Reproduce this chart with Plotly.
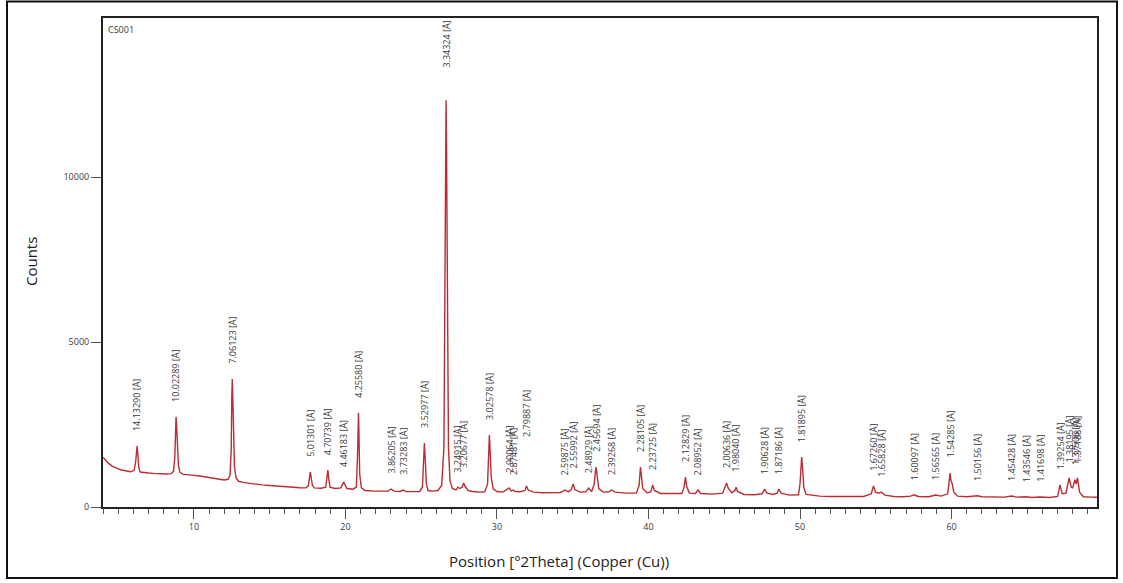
import math
import plotly.graph_objects as go

# Diffractogram of sample CS001, Cu K-alpha radiation
two_theta = [
    4.00, 4.15, 4.35, 4.60, 4.90, 5.20, 5.50, 5.80, 5.95, 6.05, 6.15, 6.21, 6.25, 6.30, 6.36, 6.45,
    6.70, 7.00, 7.30, 7.60, 7.90, 8.20, 8.50, 8.65, 8.74, 8.79, 8.82, 8.86, 8.92, 8.98, 9.08, 9.30,
    9.70, 10.10, 10.50, 10.90, 11.20, 11.45, 11.60, 12.00, 12.25, 12.38, 12.46, 12.50, 12.53, 12.56,
    12.61, 12.68, 12.78, 12.95, 13.30, 13.70, 14.10, 14.50, 15.00, 15.50, 16.00, 16.50, 17.00, 17.40,
    17.55, 17.63, 17.68, 17.73, 17.82, 17.95, 18.40, 18.70, 18.79, 18.84, 18.89, 18.98, 19.30, 19.70,
    19.82, 19.88, 19.94, 20.10, 20.50, 20.72, 20.80, 20.84, 20.86, 20.89, 20.94, 21.05, 21.30, 21.80,
    22.30, 22.80, 23.01, 23.20, 23.60, 23.82, 24.00, 24.50, 24.90, 25.08, 25.15, 25.21, 25.26, 25.34,
    25.45, 25.80, 26.10, 26.35, 26.50, 26.57, 26.62, 26.64, 26.67, 26.72, 26.80, 26.90, 27.05, 27.30,
    27.43, 27.55, 27.70, 27.80, 27.90, 28.10, 28.50, 28.90, 29.20, 29.38, 29.45, 29.50, 29.55, 29.62,
    29.75, 30.00, 30.40, 30.80, 30.95, 31.08, 31.20, 31.50, 31.85, 31.95, 32.05, 32.40, 33.00, 33.60,
    34.20, 34.49, 34.70, 34.90, 35.03, 35.15, 35.50, 35.85, 36.05, 36.25, 36.42, 36.50, 36.54, 36.60,
    36.72, 37.00, 37.40, 37.56, 37.80, 38.50, 39.20, 39.38, 39.44, 39.47, 39.52, 39.62, 39.90, 40.15,
    40.28, 40.38, 40.80, 41.50, 42.20, 42.35, 42.44, 42.52, 42.70, 43.10, 43.27, 43.45, 44.20, 44.90,
    45.05, 45.15, 45.27, 45.50, 45.70, 45.78, 45.88, 46.30, 47.00, 47.50, 47.67, 47.80, 48.20, 48.50,
    48.60, 48.75, 49.30, 49.90, 50.00, 50.06, 50.11, 50.16, 50.25, 50.40, 50.70, 51.30, 52.00, 52.80,
    53.50, 54.20, 54.70, 54.85, 54.98, 55.20, 55.36, 55.60, 56.20, 56.80, 57.30, 57.52, 57.80, 58.50,
    58.95, 59.30, 59.75, 59.84, 59.90, 59.96, 60.05, 60.15, 60.40, 61.00, 61.50, 61.73, 62.00, 62.80,
    63.50, 63.97, 64.30, 64.91, 65.30, 65.86, 66.50, 67.00, 67.16, 67.30, 67.55, 67.76, 67.90, 68.00,
    68.14, 68.22, 68.31, 68.45, 68.70, 69.20, 69.60,
]
counts = [
    1510, 1430, 1330, 1240, 1170, 1120, 1100, 1070, 1085, 1110, 1350, 1700, 1850, 1600, 1200, 1060,
    1040, 1030, 1020, 1010, 1000, 1000, 1010, 1080, 1500, 2400, 2730, 2450, 1700, 1250, 1050, 990,
    975, 960, 930, 900, 880, 880, 850, 820, 840, 950, 1700, 3300, 3880, 3400,
    2200, 1200, 880, 780, 740, 710, 690, 670, 650, 630, 610, 595, 585, 580,
    650, 900, 1060, 920, 650, 580, 570, 600, 900, 1120, 900, 600, 560, 580,
    700, 760, 700, 560, 540, 600, 1600, 2700, 2850, 2300, 1000, 580, 500, 480,
    470, 480, 545, 480, 470, 515, 465, 460, 470, 600, 1300, 1940, 1500, 700,
    500, 480, 500, 650, 1800, 6000, 11500, 12330, 11000, 5500, 1800, 800, 560, 520,
    600, 560, 600, 730, 620, 500, 460, 450, 460, 700, 1600, 2180, 1700, 900,
    550, 470, 450, 575, 480, 515, 470, 460, 500, 640, 520, 450, 430, 430,
    440, 515, 460, 520, 700, 520, 450, 460, 575, 470, 700, 1100, 1210, 1000,
    560, 450, 460, 515, 450, 420, 420, 650, 1100, 1210, 1000, 560, 430, 460,
    670, 500, 410, 400, 410, 600, 910, 620, 420, 410, 515, 410, 390, 420,
    600, 730, 560, 430, 500, 600, 470, 380, 370, 400, 545, 430, 380, 420,
    545, 420, 360, 370, 700, 1300, 1515, 1250, 600, 380, 360, 330, 320, 320,
    310, 320, 400, 640, 450, 420, 455, 360, 320, 310, 330, 370, 320, 310,
    365, 330, 400, 800, 1030, 800, 700, 450, 330, 310, 320, 340, 310, 300,
    300, 335, 300, 310, 290, 305, 290, 320, 670, 400, 420, 880, 600, 580,
    830, 700, 880, 450, 310, 300, 295,
]

# Interplanar spacings (Å) of the identified reflections
d_spacings = [
    14.13290, 10.02289, 7.06123, 5.01301, 4.70739, 4.46183, 4.25580, 3.86205, 3.73283, 3.52977,
    3.34324, 3.24915, 3.20677, 3.02578, 2.90064, 2.87481, 2.79887, 2.59875, 2.55992, 2.48929,
    2.45694, 2.39268, 2.28105, 2.23725, 2.12829, 2.08952, 2.00636, 1.98040, 1.90628, 1.87186,
    1.81895, 1.67260, 1.65828, 1.60097, 1.56565, 1.54285, 1.50156, 1.45428, 1.43546, 1.41698,
    1.39254, 1.38195, 1.37506, 1.37188,
]

y_ticks = [0, 5000, 10000]
y_tick_labels = ["0", "5000", "10000"]
x_ticks = [10, 20, 30, 40, 50, 60]

WAVELENGTH = 1.5406  # Cu K-alpha1, Å
X_RANGE = [4.0, 69.6]
Y_MAX = 14820

W, H = 1123, 583
ML, MR, MT, MB = 103, 26, 18, 76
PW, PH = W - ML - MR, H - MT - MB

TEXT = "#3a3a3a"
LINE = "#bb2c33"
FONT = "Open Sans, Noto Sans, sans-serif"


def bragg_two_theta(d):
    return 2 * math.degrees(math.asin(WAVELENGTH / (2 * d)))


def apex_height(x):
    near = [c for t, c in zip(two_theta, counts) if abs(t - x) <= 0.04]
    return max(near)


def px_x(px):
    return (px - ML) / PW


def px_y(py):
    return (H - MB - py) / PH


fig = go.Figure()
fig.add_trace(go.Scatter(
    x=two_theta, y=counts, mode="lines",
    line=dict(color=LINE, width=1.4),
    hoverinfo="skip", showlegend=False,
))

# extra lift (px) for labels pushed up to clear their neighbours
label_lift = {2.79887: 34}
label_font = dict(family=FONT, size=9, color=TEXT)

annotations = []
for d in d_spacings:
    x = bragg_two_theta(d)
    text = f"{d:.5f} [Å]"
    h = apex_height(x)
    if d == 3.34324:
        annotations.append(dict(x=x, y=Y_MAX, xref="x", yref="y", text=text,
                                textangle=-90, showarrow=False, xanchor="center",
                                yanchor="top", yshift=-1, font=label_font))
    else:
        annotations.append(dict(x=x, y=h, xref="x", yref="y", text=text,
                                textangle=-90, showarrow=False, xanchor="center",
                                yanchor="bottom", yshift=13 + label_lift.get(d, 0),
                                font=label_font))

annotations.append(dict(x=px_x(106), y=px_y(21), xref="paper", yref="paper", text="CS001",
                        showarrow=False, xanchor="left", yanchor="top",
                        font=dict(family=FONT, size=9, color=TEXT)))
annotations.append(dict(x=px_x(559), y=px_y(561), xref="paper", yref="paper",
                        text="Position [°2Theta] (Copper (Cu))", showarrow=False,
                        xanchor="center", yanchor="middle",
                        font=dict(family=FONT, size=15, color="#222")))
annotations.append(dict(x=px_x(31), y=px_y(262), xref="paper", yref="paper",
                        text="Counts", showarrow=False, textangle=-90,
                        xanchor="center", yanchor="middle",
                        font=dict(family=FONT, size=15, color="#222")))

# outer frame around the whole figure
shapes = [dict(type="rect", xref="paper", yref="paper",
               x0=px_x(7), x1=px_x(1117), y0=px_y(578), y1=px_y(1.5),
               line=dict(color="#111", width=2), fillcolor="rgba(0,0,0,0)", layer="above")]

fig.update_layout(
    width=W, height=H,
    margin=dict(l=ML, r=MR, t=MT, b=MB, pad=0),
    paper_bgcolor="white", plot_bgcolor="white",
    annotations=annotations, shapes=shapes,
    xaxis=dict(
        range=X_RANGE, tickmode="array", tickvals=x_ticks,
        ticks="outside", ticklen=10, tickwidth=1.2, tickcolor="#555",
        minor=dict(dtick=1, ticks="outside", ticklen=5, tickwidth=1, tickcolor="#555", showgrid=False),
        showgrid=False, zeroline=False,
        showline=True, linecolor="#222", linewidth=2, mirror=True,
        tickfont=dict(family=FONT, size=9, color=TEXT),
    ),
    yaxis=dict(
        range=[0, Y_MAX], tickmode="array", tickvals=y_ticks, ticktext=y_tick_labels,
        ticks="outside", ticklen=10, tickwidth=1.2, tickcolor="#555",
        showgrid=False, zeroline=False,
        showline=True, linecolor="#222", linewidth=2, mirror=True,
        tickfont=dict(family=FONT, size=9, color=TEXT),
    ),
)

fig.write_html("out.html")
